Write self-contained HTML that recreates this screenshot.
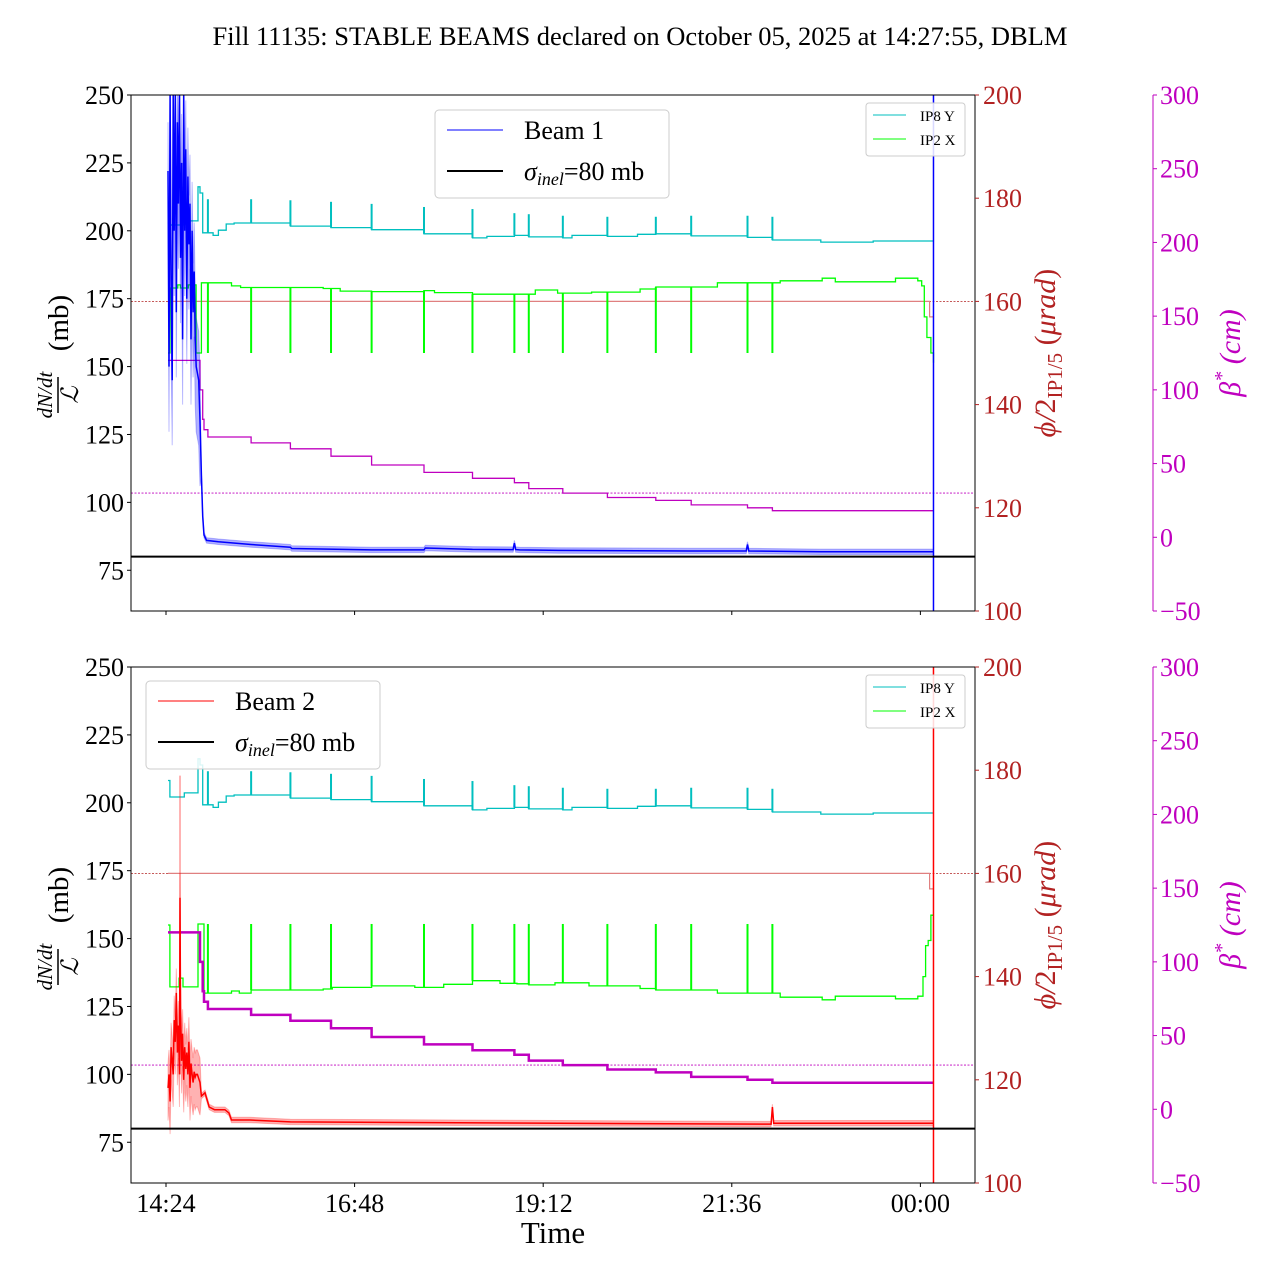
<!DOCTYPE html>
<html><head><meta charset="utf-8"><style>
body{margin:0;background:#fff}
svg{display:block;font-family:"Liberation Serif",serif}
svg text{font-family:"Liberation Serif",serif}
</style></head><body>
<svg id="c" width="1280" height="1280" viewBox="0 0 1280 1280" xmlns="http://www.w3.org/2000/svg">
<text x="640" y="45" text-anchor="middle" font-size="26.5" font-family="Liberation Serif, serif">Fill 11135: STABLE BEAMS declared on October 05, 2025 at 14:27:55, DBLM</text>
</svg>
<script>
// ---- data (time in minutes since 14:24) ----
const xTickLabels = ["14:24","16:48","19:12","21:36","00:00"];
const xTickMins = [0,144,288,432,576];
const mbTicks = [75,100,125,150,175,200,225,250];
const phiTicks = [100,120,140,160,180,200];
const betaTicks = [-50,0,50,100,150,200,250,300];
const eventTimes = [32,65,95,126,157,197,234,266,277,303,337,374,401,444,463];
const cyanSpikeVals = [179.8,179.8,179.6,179.3,178.9,178.3,177.9,177.1,176.9,176.6,176.4,176.4,176.6,176.6,176.4];
const cyanTimes = [1.5,3,14,24.4,26,28,36,40,46,52,95,126,157,197,234,245,266,277,303,310,337,360,374,401,444,463,500,540,586];
const cyanVals  = [178,174.8,175.6,182.2,181,173.3,172.8,173.8,175,175.2,174.6,174.3,173.9,173.1,172.3,172.6,172.8,172.5,172.3,172.8,172.6,173,173.1,172.7,172.4,171.9,171.5,171.7,171.7];
const greenTopTimes = [1.5,3,9,11,17,23,27,50,57,120,133,157,197,205,234,282,299,325,362,374,421,469,501,511,557,574,577,579,581,584,586];
const greenTopVals  = [150,162.6,163.2,162.6,163.2,150,163.6,163.0,162.7,162.5,162.0,161.9,162.1,161.7,161.4,162.2,161.6,161.8,162.4,162.8,163.6,164.0,164.5,163.8,164.5,164.0,163.0,157,153,150,148.1];
const greenTopSpike = 150;
const greenBotTimes = [1.5,3,10,13,24.4,29,50,56,65,120,127,157,190,212,234,255,268,277,297,323,362,374,421,469,501,511,557,574,578,580,582,584,586];
const greenBotVals  = [150,138,139.7,138,150.2,136.8,137.2,136.8,137.4,137.6,137.9,138.2,137.9,138.5,139.2,138.7,138.6,138.4,138.8,138.2,137.7,137.4,136.8,136.0,135.5,136.2,135.7,136.2,140,146,147,151.9,151.9];
const greenBotSpike = 150.2;
const betaTimes = [1.5,24.4,26,28,29,32,65,95,126,157,197,234,266,277,303,337,374,401,444,463,586];
const betaVals  = [120,120,100,80,73,68,64,60,55,49,44,40,37,33,30,27,25,22,20,18,18];
const phiSetTimes = [1.5,583,586];
const phiSetVals = [160,157,157];
const refPhi = 160, refBeta = 30, sigmaInel = 80;
const b1Times = [1.5,2.3,3.1,3.9,4.7,5.5,6.3,7.1,7.9,8.7,9.5,10.3,11.1,11.9,12.7,13.5,14.3,15.1,15.9,16.7,17.5,18.3,19.1,19.9,20.7,21.5,22.3,23.1,25,26,27,28,29,31,40,65,95,96,157,197,198,234,265,266,267,270,300,400,443,444,445,500,586];
const b1Vals  = [222,150,250,180,145,250,200,250,170,240,210,250,190,225,160,250,200,230,175,220,195,210,160,200,170,185,160,150,145,130,110,95,88,86,85.5,84.5,83.5,83,82.5,82.5,83.2,82.7,82.6,85,82.6,82.5,82.3,82.1,82.1,84.5,82.1,81.8,81.8];
const b2Times = [1.5,2.3,3.1,3.9,4.7,5.5,6.3,7.1,7.9,8.7,9.5,10.3,10.7,11.1,11.9,12.7,13.5,14.3,15.1,15.9,16.7,17.5,18.3,19.1,19.9,20.7,21.5,22.3,23.1,24,26,27,29.8,33,37,45,48,50,64,95,300,462,463,464,586];
const b2Vals  = [95,100,90,110,105,100,120,112,130,108,118,100,165,125,105,115,98,110,102,108,100,112,95,104,100,97,101,99,100,100,97,92,93.2,88,87,87,85.8,83.2,83.2,82.5,82,81.7,88,82,82];
const b2SpikeTime = 10.7, b2SpikeVal = 210;

// ---- layout ----
const NS="http://www.w3.org/2000/svg";
const svg=document.getElementById('c');
const X0=131,X1=975,H=516;
const tMin=-26.72, tMax=617.7;
function xs(t){return X0+(t-tMin)/(tMax-tMin)*(X1-X0);}
function ymb(top,v){return top+(250-v)/190*H;}
function yphi(top,v){return top+(200-v)/100*H;}
function ybeta(top,v){return top+(300-v)/350*H;}
function el(tag,attrs,parent){const e=document.createElementNS(NS,tag);for(const k in attrs)e.setAttribute(k,attrs[k]);if(tag==='text')e.setAttribute('font-family','Liberation Serif, serif');(parent||svg).appendChild(e);return e;}
function stepPath(T,V,yf){let d='M'+xs(T[0]).toFixed(1)+','+yf(V[0]).toFixed(1);for(let i=1;i<T.length;i++){d+='L'+xs(T[i]).toFixed(1)+','+yf(V[i-1]).toFixed(1)+'L'+xs(T[i]).toFixed(1)+','+yf(V[i]).toFixed(1);}return d;}
function linePath(T,V,yf){return T.map((t,i)=>(i?'L':'M')+xs(t).toFixed(1)+','+yf(V[i]).toFixed(1)).join('');}
const PHI='#b22222', BETA='#bf00bf';

function panel(top,idx){
  const g=el('g',{});
  
  
  const clipId='clip'+idx;
  const cp=el('clipPath',{id:clipId},g);el('rect',{x:X0,y:top,width:X1-X0,height:H},cp);
  const pg=el('g',{'clip-path':'url(#'+clipId+')'},g);
  
  
  const yp=v=>yphi(top,v), yb=v=>ybeta(top,v), ym=v=>ymb(top,v);
  let l=el('line',{x1:X0,x2:X1,y1:yp(refPhi),y2:yp(refPhi),stroke:PHI,'stroke-width':0.8,'stroke-dasharray':'2,1.5'},pg);
  
  l=el('line',{x1:X0,x2:X1,y1:yb(refBeta),y2:yb(refBeta),stroke:BETA,'stroke-width':0.8,'stroke-dasharray':'2,1.5'},pg);
  
  l=el('path',{d:stepPath(phiSetTimes,phiSetVals,yp),fill:'none',stroke:'#e08080','stroke-width':1.2},pg);
  
  l=el('path',{d:stepPath(cyanTimes,cyanVals,yp),fill:'none',stroke:'#00bfbf','stroke-width':1.3},pg);
  
  eventTimes.forEach((t,i)=>{
    let j=0;while(j+1<cyanTimes.length&&cyanTimes[j+1]<=t)j++;
    const s=el('line',{x1:xs(t),x2:xs(t),y1:yp(cyanVals[j]),y2:yp(cyanSpikeVals[i]),stroke:'#00bfbf','stroke-width':2},pg);
    
    
  });
  const GT=idx===0?greenTopTimes:greenBotTimes, GV=idx===0?greenTopVals:greenBotVals, GS=idx===0?greenTopSpike:greenBotSpike;
  l=el('path',{d:stepPath(GT,GV,yp),fill:'none',stroke:'#00ff00','stroke-width':1.3},pg);
  
  eventTimes.forEach(t=>{
    let j=0;while(j+1<GT.length&&GT[j+1]<=t)j++;
    const s=el('line',{x1:xs(t),x2:xs(t),y1:yp(GV[j]),y2:yp(GS),stroke:'#00ff00','stroke-width':2},pg);
    
    
  });
  l=el('path',{d:stepPath(betaTimes,betaVals,yb),fill:'none',stroke:BETA,'stroke-width':idx===0?1.3:2.5},pg);
  
  const BT=idx===0?b1Times:b2Times, BV=idx===0?b1Vals:b2Vals, col=idx===0?'#0000ff':'#ff0000';
  const bandW=(idx===0?60:30);
  const hi=BV.map((v,i)=>v+(BT[i]<27?bandW*0.3:1)), lo=BV.map((v,i)=>v-(BT[i]<27?bandW*0.4:1));
  const bd=linePath(BT,hi,ym)+linePath(BT.slice().reverse(),lo.slice().reverse(),ym).replace('M','L')+'Z';
  l=el('path',{d:bd,fill:col,'fill-opacity':0.3,stroke:col,'stroke-opacity':0.25,'stroke-width':1},pg);
  
  if(idx===1){
    l=el('line',{x1:xs(b2SpikeTime),x2:xs(b2SpikeTime),y1:ym(100),y2:ym(b2SpikeVal),stroke:col,'stroke-opacity':0.4,'stroke-width':1.5},pg);
    
  }
  l=el('path',{d:linePath(BT,BV,ym),fill:'none',stroke:col,'stroke-width':1.5},pg);
  
  const tEnd=BT[BT.length-1];
  l=el('line',{x1:xs(tEnd),x2:xs(tEnd),y1:top,y2:top+H,stroke:col,'stroke-width':1.5},pg);
  
  l=el('line',{x1:X0,x2:X1,y1:ym(sigmaInel),y2:ym(sigmaInel),stroke:'#000','stroke-width':2},pg);
  
  l=el('rect',{x:X0,y:top,width:X1-X0,height:H,fill:'none',stroke:'#000','stroke-width':1},g);
  
  mbTicks.forEach(v=>{
    el('line',{x1:X0-4,x2:X0,y1:ym(v),y2:ym(v),stroke:'#000'},g);
    const t=el('text',{x:X0-7,y:ym(v)+9,'text-anchor':'end','font-size':26},g);t.textContent=v;
    
  });
  phiTicks.forEach(v=>{
    el('line',{x1:X1,x2:X1+4,y1:yp(v),y2:yp(v),stroke:PHI},g);
    const t=el('text',{x:X1+8,y:yp(v)+9,fill:PHI,'font-size':26},g);t.textContent=v;
    
  });
  const BX=1153;
  l=el('line',{x1:BX,x2:BX,y1:top,y2:top+H,stroke:BETA,'stroke-width':1},g);
  
  betaTicks.forEach(v=>{
    el('line',{x1:BX,x2:BX+4,y1:yb(v),y2:yb(v),stroke:BETA},g);
    const t=el('text',{x:BX+7,y:yb(v)+9,fill:BETA,'font-size':26},g);t.textContent=(v<0?'\u2212'+(-v):v);
    
  });
  xTickMins.forEach((m,i)=>{
    el('line',{x1:xs(m),x2:xs(m),y1:top+H,y2:top+H+4,stroke:'#000'},g);
    if(idx===1){const t=el('text',{x:xs(m),y:top+H+29,'text-anchor':'middle','font-size':26},g);t.textContent=xTickLabels[i];
      }
  });
  const cy=top+H/2;
  const ly=el('g',{transform:'translate(58,'+cy+') rotate(-90)'},g);
  
  let t=el('text',{x:-42,y:-6,'text-anchor':'middle','font-size':21,'font-style':'italic'},ly);t.textContent='dN/dt';
  el('line',{x1:-60,x2:-24,y1:0,y2:0,stroke:'#000','stroke-width':1.5},ly);
  t=el('text',{x:-42,y:20,'text-anchor':'middle','font-size':24,'font-style':'italic'},ly);t.textContent='\u2112';
  t=el('text',{x:30,y:10,'text-anchor':'middle','font-size':29},ly);t.textContent='(mb)';
  const lp=el('text',{transform:'translate(1055,'+cy+') rotate(-90)','text-anchor':'middle','font-size':30,fill:PHI},g);
  
  lp.innerHTML='<tspan font-style="italic">\u03d5/</tspan>2<tspan font-size="21" dy="7">IP1/5</tspan><tspan dy="-7"> (</tspan><tspan font-style="italic">\u03bcrad</tspan>)';
  const lb=el('text',{transform:'translate(1240,'+cy+') rotate(-90)','text-anchor':'middle','font-size':30,fill:BETA,'font-style':'italic'},g);
  
  lb.innerHTML='\u03b2<tspan font-size="20" dy="-12">*</tspan><tspan dy="12"> (cm)</tspan>';
  const LX=idx===0?435:146, LY=idx===0?110:681;
  const lg=el('g',{},g);
  
  el('rect',{x:LX,y:LY,width:234,height:88,rx:4,fill:'#fff','fill-opacity':0.85,stroke:'#ccc'},lg);
  el('line',{x1:LX+12,x2:LX+68,y1:LY+20,y2:LY+20,stroke:col,'stroke-width':1},lg);
  t=el('text',{x:LX+89,y:LY+29,'font-size':26},lg);t.textContent=idx===0?'Beam 1':'Beam 2';
  el('line',{x1:LX+12,x2:LX+68,y1:LY+61,y2:LY+61,stroke:'#000','stroke-width':2},lg);
  t=el('text',{x:LX+89,y:LY+70,'font-size':26},lg);
  t.innerHTML='<tspan font-style="italic">\u03c3</tspan><tspan font-size="18" dy="5" font-style="italic">inel</tspan><tspan dy="-5">=80 mb</tspan>';
  const sg=el('g',{},g);
  
  const SY=top+8;
  el('rect',{x:866,y:SY,width:99,height:53,rx:3,fill:'#fff','fill-opacity':0.85,stroke:'#ccc'},sg);
  el('line',{x1:873,x2:906,y1:SY+12,y2:SY+12,stroke:'#00bfbf'},sg);
  t=el('text',{x:920,y:SY+18,'font-size':15},sg);t.textContent='IP8 Y';
  el('line',{x1:873,x2:906,y1:SY+36,y2:SY+36,stroke:'#00ff00'},sg);
  t=el('text',{x:920,y:SY+42,'font-size':15},sg);t.textContent='IP2 X';
}
panel(95,0);
panel(667,1);
const xt=el('text',{x:553,y:1243,'text-anchor':'middle','font-size':31});
xt.textContent='Time';


</script>
</body></html>
